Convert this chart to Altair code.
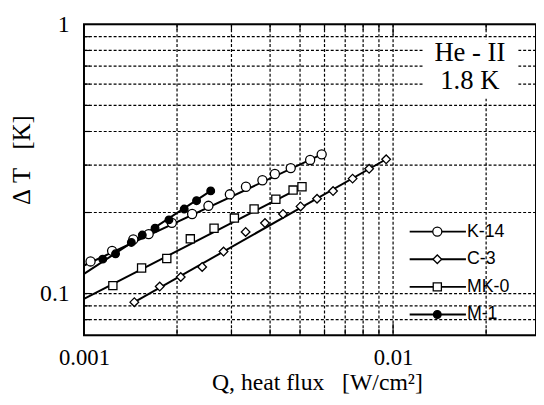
import altair as alt
import pandas as pd

# ---------------- data ----------------
series_names = ["K-14", "C-3", "MK-0", "M-1"]

k14_q = [0.001050, 0.001233, 0.001444, 0.001619, 0.001924, 0.002238, 0.002527,
         0.002964, 0.003342, 0.003778, 0.004146, 0.004665, 0.005391, 0.005875]
k14_t = [0.1316, 0.1441, 0.1588, 0.1663, 0.1831, 0.1975, 0.2118,
         0.2337, 0.2493, 0.2635, 0.2781, 0.2924, 0.3135, 0.3289]

c3_q = [0.001455, 0.001758, 0.002056, 0.002412, 0.002828, 0.003334, 0.003851,
        0.004404, 0.005020, 0.005675, 0.006395, 0.007396, 0.008365, 0.009498]
c3_t = [0.0929, 0.1062, 0.1152, 0.1255, 0.1432, 0.1694, 0.1828,
        0.1975, 0.2107, 0.2250, 0.2403, 0.2673, 0.2907, 0.3154]

mk0_q = [0.001240, 0.001536, 0.001853, 0.002208, 0.002635, 0.003066, 0.003551,
         0.004176, 0.004748, 0.005073]
mk0_t = [0.1070, 0.1244, 0.1350, 0.1597, 0.1748, 0.1907, 0.2060,
         0.2240, 0.2423, 0.2493]

m1_q = [0.001150, 0.001265, 0.001423, 0.001544, 0.001698, 0.001883, 0.002110,
        0.002313, 0.002570]
m1_t = [0.1342, 0.1405, 0.1548, 0.1649, 0.1748, 0.1878, 0.2060, 0.2213, 0.2406]

# fitted straight lines (start / end) per series
fit_q_start = [0.001, 0.001455, 0.001, 0.001]
fit_t_start = [0.1271, 0.0929, 0.0955, 0.1183]
fit_q_end = [0.005875, 0.009498, 0.005073, 0.002570]
fit_t_end = [0.3289, 0.3154, 0.2493, 0.2406]

x_grid = [0.002, 0.003, 0.004, 0.005, 0.006, 0.007, 0.008, 0.009, 0.01, 0.02]
x_minor_ticks = [0.002, 0.003, 0.004, 0.005, 0.006, 0.007, 0.008, 0.009, 0.02]
x_major_ticks = [0.01]
y_grid = [0.08, 0.09, 0.1, 0.2, 0.3, 0.4, 0.5, 0.6, 0.7, 0.8, 0.9]
x_labels = [0.001, 0.01]
y_labels = [0.1, 1]
annot = ["He - II", "1.8 K"]

NB = "\u00a0"
x_title = "Q, heat flux" + NB * 3 + "[W/cm²]"
y_title = "Δ" + NB + "T" + NB * 3 + "[K]"

# ---------------- tables ----------------
pts = pd.concat([
    pd.DataFrame({"series": "K-14", "q": k14_q, "t": k14_t}),
    pd.DataFrame({"series": "C-3", "q": c3_q, "t": c3_t}),
    pd.DataFrame({"series": "MK-0", "q": mk0_q, "t": mk0_t}),
    pd.DataFrame({"series": "M-1", "q": m1_q, "t": m1_t}),
], ignore_index=True)

fit_rows = []
for i, s in enumerate(series_names):
    fit_rows.append({"series": s, "q": fit_q_start[i], "t": fit_t_start[i]})
    fit_rows.append({"series": s, "q": fit_q_end[i], "t": fit_t_end[i]})
fits = pd.DataFrame(fit_rows)

xg = pd.DataFrame({"v": x_grid})
yg = pd.DataFrame({"v": y_grid})
xmin = pd.DataFrame({"v": x_minor_ticks})
xmaj = pd.DataFrame({"v": x_major_ticks})
leg = pd.DataFrame({"series": series_names})
one = pd.DataFrame({"a": [0]})
ann = pd.DataFrame({"txt": annot})

W, H = 458, 315
SERIF = "Liberation Serif"
SANS = "Liberation Sans"

xscale = alt.Scale(type="log", domain=[0.001, 0.029], nice=False)
yscale = alt.Scale(type="log", domain=[0.07, 1], nice=False)

xaxis = alt.Axis(values=x_labels, format="~g", grid=False, ticks=False, tickSize=0,
                 domain=False, labelFont=SERIF, labelFontSize=23, labelColor="black",
                 labelPadding=12, labelFlush=False, labelOverlap=False,
                 title=x_title, titleFont=SERIF, titleFontSize=24,
                 titleFontWeight="normal", titleColor="black", titleX=236, titleY=48,
                 titleAlign="center", titleBaseline="middle")
yaxis = alt.Axis(values=y_labels, format="~g", grid=False, ticks=False, tickSize=0,
                 domain=False, labelFont=SERIF, labelFontSize=24, labelColor="black",
                 labelPadding=15, labelFlush=False, labelOverlap=False,
                 title=y_title, titleFont=SERIF, titleFontSize=25,
                 titleFontWeight="normal", titleColor="black", titleX=-63, titleY=137,
                 titleAlign="center", titleBaseline="middle", titleAngle=270)


def X(field):
    return alt.X(field, type="quantitative", scale=xscale, axis=xaxis)


def Y(field):
    return alt.Y(field, type="quantitative", scale=yscale, axis=yaxis)


shape_enc = alt.Shape("series:N", scale=alt.Scale(domain=series_names,
                      range=["circle", "diamond", "square", "circle"]), legend=None)
fill_enc = alt.Fill("series:N", scale=alt.Scale(domain=series_names,
                    range=["white", "white", "white", "black"]), legend=None)
size_enc = alt.Size("series:N", scale=alt.Scale(domain=series_names,
                    range=[85, 60, 85, 42]), legend=None)
sw_enc = alt.StrokeWidth("series:N", scale=alt.Scale(domain=series_names,
                         range=[2, 2, 2, 2.6]), legend=None)

grid_style = dict(color="black", strokeWidth=1.2, strokeDash=[3, 2])

vgrid = alt.Chart(xg).mark_rule(**grid_style).encode(x=X("v"))
hgrid = alt.Chart(yg).mark_rule(**grid_style).encode(y=Y("v"))

box = alt.Chart(one).mark_rect(fill="white").encode(
    x=alt.value(344), x2=alt.value(440), y=alt.value(15), y2=alt.value(75))

frame = alt.Chart(one).mark_rect(fill="white", fillOpacity=0, stroke="black",
                                 strokeWidth=2).encode(
    x=alt.value(0), x2=alt.value(W), y=alt.value(0), y2=alt.value(H))

tick_style = dict(color="black", strokeWidth=1.2)
top_min = alt.Chart(xmin).mark_rule(**tick_style).encode(x=X("v"), y=alt.value(0), y2=alt.value(6))
top_maj = alt.Chart(xmaj).mark_rule(**tick_style).encode(x=X("v"), y=alt.value(0), y2=alt.value(11))
bot_min = alt.Chart(xmin).mark_rule(**tick_style).encode(x=X("v"), y=alt.value(H), y2=alt.value(H - 6))
bot_maj = alt.Chart(xmaj).mark_rule(**tick_style).encode(x=X("v"), y=alt.value(H), y2=alt.value(H - 12))
left_t = alt.Chart(yg).mark_rule(**tick_style).encode(y=Y("v"), x=alt.value(0), x2=alt.value(6))

lines = alt.Chart(fits).mark_line(color="black", clip=True).encode(
    x=X("q"), y=Y("t"), detail="series:N", strokeWidth=sw_enc)

points = alt.Chart(pts).mark_point(filled=True, stroke="black", strokeWidth=1.3,
                                   opacity=1, clip=True).encode(
    x=X("q"), y=Y("t"), shape=shape_enc, fill=fill_enc, size=size_enc)

ann_text = alt.Chart(ann).mark_text(font=SERIF, fontSize=27, color="black",
                                    align="center", baseline="middle").encode(
    text="txt:N",
    x=alt.value(391),
    y=alt.Y("txt:N", scale=alt.Scale(type="point", domain=annot, range=[29, 58], padding=0),
            axis=None))

main = alt.layer(vgrid, hgrid, box, top_min, top_maj, bot_min, bot_maj, left_t,
                 frame, lines, points)

leg_y = alt.Y("series:N", scale=alt.Scale(type="point", domain=series_names,
              range=[210, 294], padding=0), axis=None)
leg_rule = alt.Chart(leg).mark_rule(color="black", strokeWidth=2).encode(
    x=alt.value(330), x2=alt.value(387), y=leg_y)
leg_pts = alt.Chart(leg).mark_point(filled=True, stroke="black", strokeWidth=1.3,
                                    opacity=1).encode(
    x=alt.value(358), y=leg_y, shape=shape_enc, fill=fill_enc, size=size_enc)
leg_txt = alt.Chart(leg).mark_text(font=SANS, fontSize=18, color="black",
                                   align="left", baseline="middle").encode(
    x=alt.value(388), y=leg_y, text="series:N")
legend = alt.layer(leg_rule, leg_pts, leg_txt)

chart = alt.layer(main, ann_text, legend).resolve_scale(y="independent").properties(
    width=W, height=H,
    padding={"left": 77, "top": 14, "right": 0, "bottom": 60},
    autosize=alt.AutoSizeParams(type="none"),
).configure_view(stroke="black", strokeWidth=2).configure(background="white")

chart.save("out.html", embed_options={"renderer": "svg", "actions": False})
